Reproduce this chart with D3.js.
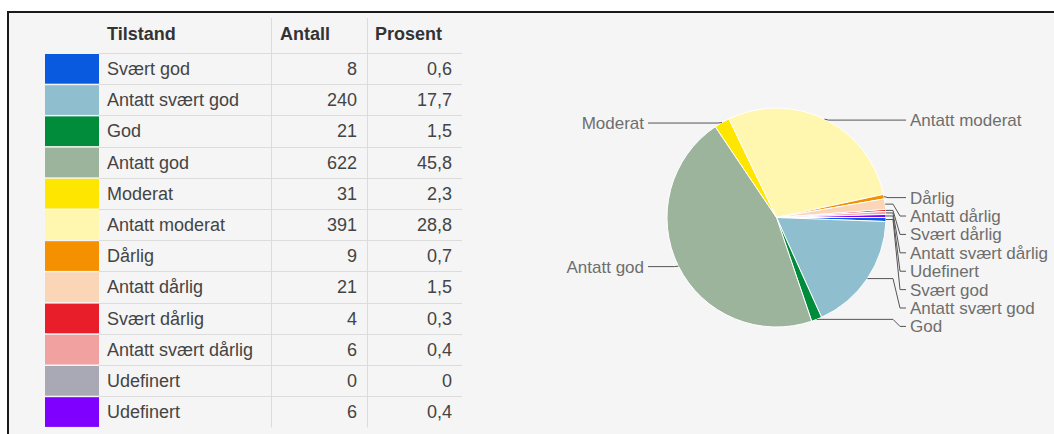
<!DOCTYPE html>
<html>
<head>
<meta charset="utf-8">
<script src="https://cdn.jsdelivr.net/npm/d3@7/dist/d3.min.js"></script>
<style>
  html, body { margin: 0; padding: 0; background: #ffffff; }
  svg { display: block; font-family: "Liberation Sans", Arial, sans-serif; }
</style>
</head>
<body>
<svg id="chart" width="1054" height="434"></svg>
<script>
// ---- data ----
const headers = ["Tilstand", "Antall", "Prosent"];
const categories = ["Svært god", "Antatt svært god", "God", "Antatt god", "Moderat",
  "Antatt moderat", "Dårlig", "Antatt dårlig", "Svært dårlig", "Antatt svært dårlig",
  "Udefinert", "Udefinert"];
const counts = [8, 240, 21, 622, 31, 391, 9, 21, 4, 6, 0, 6];
const percents = [0.6, 17.7, 1.5, 45.8, 2.3, 28.8, 0.7, 1.5, 0.3, 0.4, 0, 0.4];
const colors = ["#0a5ae0", "#8fbfcf", "#008c3a", "#9cb39c", "#ffe600", "#fff6b0",
  "#f59100", "#fad5b6", "#e81f2a", "#f2a1a1", "#a9a9b5", "#7f00ff"];

// ---- frame ----
const svg = d3.select("#chart");
svg.append("rect").attr("x", 8).attr("y", 12).attr("width", 1046).attr("height", 422)
  .attr("fill", "#f5f5f5");
svg.append("path").attr("d", "M8,434 L8,12 L1054,12")
  .attr("fill", "none").attr("stroke", "#1a1a1a").attr("stroke-width", 2);

// ---- table ----
const rowTop = 53, rowH = 31.2;
const y = d3.scaleBand().domain(d3.range(categories.length))
  .range([rowTop, rowTop + rowH * categories.length]);
const fmt = v => v === 0 ? "0" : d3.format(".1f")(v).replace(".", ",");

const tbl = svg.append("g");
// vertical separators
[271, 367].forEach(x => tbl.append("line").attr("x1", x + 0.5).attr("x2", x + 0.5)
  .attr("y1", 18).attr("y2", y.range()[1]).attr("stroke", "#dcdcdc"));
// horizontal separators
tbl.selectAll("line.h").data(d3.range(categories.length)).join("line")
  .attr("class", "h").attr("x1", 99).attr("x2", 462)
  .attr("y1", i => Math.round(y(i)) + 0.5).attr("y2", i => Math.round(y(i)) + 0.5)
  .attr("stroke", "#dcdcdc");
// header
const headerX = [107, 280, 375];
tbl.selectAll("text.hd").data(headers).join("text").attr("class", "hd")
  .attr("x", (d, i) => headerX[i]).attr("y", 34).attr("dy", "0.35em")
  .attr("font-size", 18).attr("font-weight", "bold").attr("fill", "#333").text(d => d);
// swatches
tbl.selectAll("rect.sw").data(categories).join("rect").attr("class", "sw")
  .attr("x", 45).attr("width", 54)
  .attr("y", (d, i) => y(i) + 1).attr("height", y.bandwidth() - 1.5)
  .attr("fill", (d, i) => colors[i]);
// cells
const rows = tbl.selectAll("g.row").data(categories).join("g").attr("class", "row")
  .attr("transform", (d, i) => `translate(0,${y(i) + y.bandwidth() / 2})`);
rows.append("text").attr("x", 107).attr("dy", "0.35em").attr("font-size", 18)
  .attr("fill", "#444").text(d => d);
rows.append("text").attr("x", 357).attr("dy", "0.35em").attr("font-size", 18)
  .attr("text-anchor", "end").attr("fill", "#444").text((d, i) => counts[i]);
rows.append("text").attr("x", 452).attr("dy", "0.35em").attr("font-size", 18)
  .attr("text-anchor", "end").attr("fill", "#444").text((d, i) => fmt(percents[i]));

// ---- pie ----
const cx = 776.5, cy = 217.5, r = 109.5;
const pie = d3.pie().sort(null).value(d => d.v)
  .startAngle(Math.PI / 2).endAngle(Math.PI / 2 + 2 * Math.PI);
const data = categories.map((c, i) => ({ c, v: counts[i], col: colors[i] }));
const arcs = pie(data);
const arc = d3.arc().innerRadius(0).outerRadius(r);
const pg = svg.append("g").attr("transform", `translate(${cx},${cy})`);
pg.selectAll("path").data(arcs.filter(a => a.data.v > 0)).join("path")
  .attr("d", arc).attr("fill", a => a.data.col)
  .attr("stroke", "#ffffff").attr("stroke-width", 1);

// labels
const lab = arcs.filter(a => a.data.v > 0).map(a => {
  const m = (a.startAngle + a.endAngle) / 2;
  return { a, c: a.data.c, ax: cx + r * Math.sin(m), ay: cy - r * Math.cos(m) };
});
const right = lab.filter(d => d.ax >= cx).sort((p, q) => p.ay - q.ay);
const left = lab.filter(d => d.ax < cx);
let prev = -Infinity;
right.forEach(d => { d.ly = Math.max(d.ay + 1, prev + 18.4); prev = d.ly; });
left.forEach(d => { d.ly = d.ay + 0.5; });

const lg = svg.append("g");
const lineCol = "#555", textCol = "#6e6e6e";
right.forEach(d => {
  let p;
  if (Math.abs(d.ly - d.ay) < 6) {
    p = `M${d.ax},${d.ay} L${d.ax + 4},${d.ly} L906,${d.ly}`;
  } else {
    p = `M${d.ax},${d.ay} L893,${d.ay} L900,${d.ly} L906,${d.ly}`;
  }
  lg.append("path").attr("d", p).attr("fill", "none").attr("stroke", lineCol).attr("stroke-width", 1);
  lg.append("text").attr("x", 910).attr("y", d.ly).attr("dy", "0.35em")
    .attr("font-size", 17).attr("fill", textCol).text(d.c);
});
left.forEach(d => {
  const p = `M${d.ax},${d.ay} L${d.ax - 4},${d.ly} L648,${d.ly}`;
  lg.append("path").attr("d", p).attr("fill", "none").attr("stroke", lineCol).attr("stroke-width", 1);
  lg.append("text").attr("x", 644).attr("y", d.ly).attr("dy", "0.35em")
    .attr("text-anchor", "end").attr("font-size", 17).attr("fill", textCol).text(d.c);
});
</script>
</body>
</html>
